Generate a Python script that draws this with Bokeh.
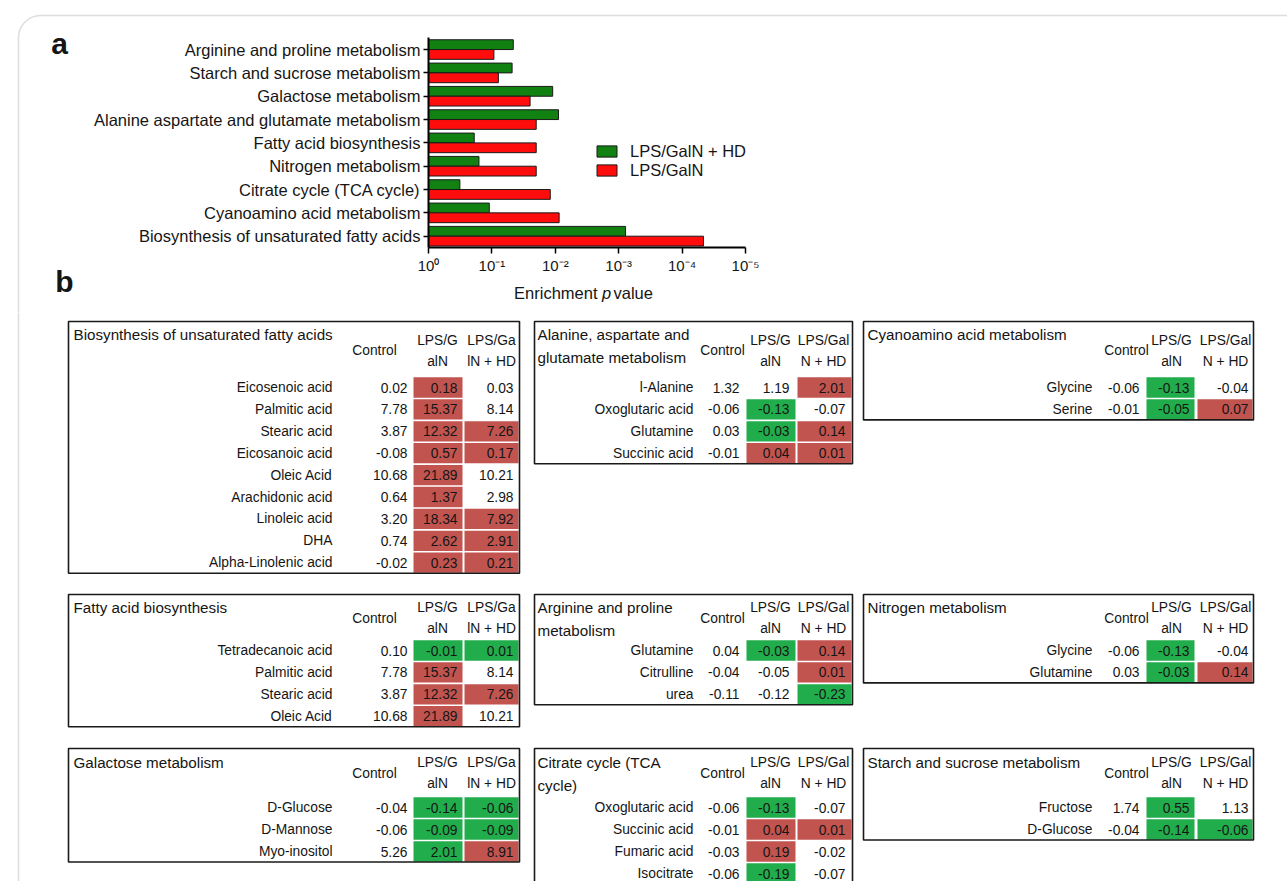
from bokeh.plotting import figure
from bokeh.models import (Range1d, FixedTicker, CustomJSTickFormatter, Label, BoxAnnotation,
                          ColumnDataSource, Legend, LegendItem)
from bokeh.layouts import column
from bokeh.embed import file_html
from bokeh.resources import INLINE
from bokeh.core.properties import value

# ---------------- panel a data ----------------
pathways = [
    "Arginine and proline metabolism",
    "Starch and sucrose metabolism",
    "Galactose metabolism",
    "Alanine aspartate and glutamate metabolism",
    "Fatty acid biosynthesis",
    "Nitrogen metabolism",
    "Citrate cycle (TCA cycle)",
    "Cyanoamino acid metabolism",
    "Biosynthesis of unsaturated fatty acids",
]
p_hd = [0.046, 0.048, 0.011, 0.0089, 0.19, 0.16, 0.32, 0.11, 0.00078]
p_galn = [0.093, 0.079, 0.025, 0.020, 0.020, 0.020, 0.012, 0.0087, 0.000046]
x_ticks = [1, 1e-1, 1e-2, 1e-3, 1e-4, 1e-5]
legend_labels = ["LPS/GalN + HD", "LPS/GalN"]

# ---------------- panel b data ----------------
hdr_control = "Control"
hdr_galn = ["LPS/G", "alN"]
hdr_hd_left = ["LPS/Ga", "lN + HD"]
hdr_hd_right = ["LPS/Gal", "N + HD"]

t1_title = ["Biosynthesis of unsaturated fatty acids"]
t1_names = ["Eicosenoic acid", "Palmitic acid", "Stearic acid", "Eicosanoic acid", "Oleic Acid",
            "Arachidonic acid", "Linoleic acid", "DHA", "Alpha-Linolenic acid"]
t1_control = [0.02, 7.78, 3.87, -0.08, 10.68, 0.64, 3.20, 0.74, -0.02]
t1_galn = [0.18, 15.37, 12.32, 0.57, 21.89, 1.37, 18.34, 2.62, 0.23]
t1_hd = [0.03, 8.14, 7.26, 0.17, 10.21, 2.98, 7.92, 2.91, 0.21]
t1_galn_sig = ["up", "up", "up", "up", "up", "up", "up", "up", "up"]
t1_hd_sig = ["", "", "up", "up", "", "", "up", "up", "up"]

t2_title = ["Alanine, aspartate and", "glutamate metabolism"]
t2_names = ["l-Alanine", "Oxoglutaric acid", "Glutamine", "Succinic acid"]
t2_control = [1.32, -0.06, 0.03, -0.01]
t2_galn = [1.19, -0.13, -0.03, 0.04]
t2_hd = [2.01, -0.07, 0.14, 0.01]
t2_galn_sig = ["", "down", "down", "up"]
t2_hd_sig = ["up", "", "up", "up"]

t3_title = ["Cyanoamino acid metabolism"]
t3_names = ["Glycine", "Serine"]
t3_control = [-0.06, -0.01]
t3_galn = [-0.13, -0.05]
t3_hd = [-0.04, 0.07]
t3_galn_sig = ["down", "down"]
t3_hd_sig = ["", "up"]

t4_title = ["Fatty acid biosynthesis"]
t4_names = ["Tetradecanoic acid", "Palmitic acid", "Stearic acid", "Oleic Acid"]
t4_control = [0.10, 7.78, 3.87, 10.68]
t4_galn = [-0.01, 15.37, 12.32, 21.89]
t4_hd = [0.01, 8.14, 7.26, 10.21]
t4_galn_sig = ["down", "up", "up", "up"]
t4_hd_sig = ["down", "", "up", ""]

t5_title = ["Arginine and proline", "metabolism"]
t5_names = ["Glutamine", "Citrulline", "urea"]
t5_control = [0.04, -0.04, -0.11]
t5_galn = [-0.03, -0.05, -0.12]
t5_hd = [0.14, 0.01, -0.23]
t5_galn_sig = ["down", "", ""]
t5_hd_sig = ["up", "up", "down"]

t6_title = ["Nitrogen metabolism"]
t6_names = ["Glycine", "Glutamine"]
t6_control = [-0.06, 0.03]
t6_galn = [-0.13, -0.03]
t6_hd = [-0.04, 0.14]
t6_galn_sig = ["down", "down"]
t6_hd_sig = ["", "up"]

t7_title = ["Galactose metabolism"]
t7_names = ["D-Glucose", "D-Mannose", "Myo-inositol"]
t7_control = [-0.04, -0.06, 5.26]
t7_galn = [-0.14, -0.09, 2.01]
t7_hd = [-0.06, -0.09, 8.91]
t7_galn_sig = ["down", "down", "down"]
t7_hd_sig = ["down", "down", "up"]

t8_title = ["Citrate cycle (TCA", "cycle)"]
t8_names = ["Oxoglutaric acid", "Succinic acid", "Fumaric acid", "Isocitrate"]
t8_control = [-0.06, -0.01, -0.03, -0.06]
t8_galn = [-0.13, 0.04, 0.19, -0.19]
t8_hd = [-0.07, 0.01, -0.02, -0.07]
t8_galn_sig = ["down", "up", "up", "down"]
t8_hd_sig = ["", "up", "", ""]

t9_title = ["Starch and sucrose metabolism"]
t9_names = ["Fructose", "D-Glucose"]
t9_control = [1.74, -0.04]
t9_galn = [0.55, -0.14]
t9_hd = [1.13, -0.06]
t9_galn_sig = ["down", "down"]
t9_hd_sig = ["", "down"]

# ---------------- styles ----------------
FONT = "Liberation Sans"
BAR_GREEN = "#118211"
BAR_RED = "#ff0d0d"
CELL_RED = "#c25450"
CELL_GREEN = "#22ad4c"
TXT = "#151515"
BORDER = "#8f8f8f"

W, H, HA = 1287, 881, 312
# page geometry of panel a (frame covers the whole canvas, axes at fixed locations)
X0_PX, DEC_PX = 428, 63.4        # pixel of 10^0, pixels per decade
Y0_PX, CAT_PX = 235.7, 23.33     # pixel of bottom category, pixels per category
x_start = 10 ** (X0_PX / DEC_PX)
x_end = 10 ** (-(W - X0_PX) / DEC_PX)
y_start = -(HA - Y0_PX) / CAT_PX
y_end = Y0_PX / CAT_PX
AXIS_Y = -0.48
TOP_Y = 8.53

# ================= panel a =================
pa = figure(width=W, height=HA, x_axis_type="log",
            x_range=Range1d(x_start, x_end), y_range=Range1d(y_start, y_end),
            output_backend="svg", toolbar_location=None, min_border=0)
pa.xgrid.visible = False
pa.ygrid.visible = False
pa.outline_line_color = None
pa.background_fill_color = "white"
pa.border_fill_color = "white"

n = len(pathways)
ypos = [n - 1 - i for i in range(n)]
src = ColumnDataSource(dict(
    y_hd=[y + 0.21 for y in ypos],
    y_galn=[y - 0.21 for y in ypos],
    p_hd=p_hd, p_galn=p_galn))
r_hd = pa.hbar(y="y_hd", left=1, right="p_hd", height=0.42, source=src,
               fill_color=BAR_GREEN, line_color="#1a1a1a", line_width=1)
r_galn = pa.hbar(y="y_galn", left=1, right="p_galn", height=0.42, source=src,
                 fill_color=BAR_RED, line_color="#1a1a1a", line_width=1)

xa = pa.xaxis[0]
xa.fixed_location = AXIS_Y
xa.bounds = (min(x_ticks), max(x_ticks))
xa.ticker = FixedTicker(ticks=x_ticks, minor_ticks=[])
xa.formatter = CustomJSTickFormatter(code="""
const e = Math.round(Math.log10(tick));
const sup = {'-':'\u207b','0':'\u2070','1':'\u00b9','2':'\u00b2','3':'\u00b3','4':'\u2074','5':'\u2075'};
return '10' + String(e).split('').map(c => sup[c]).join('');
""")
xa.axis_line_width = 2
xa.axis_line_color = "black"
xa.major_tick_out = 6
xa.major_tick_in = 0
xa.major_tick_line_width = 1.5
xa.minor_tick_out = 0
xa.minor_tick_in = 0
xa.major_label_text_font = FONT
xa.major_label_text_font_size = "15px"
xa.major_label_text_color = TXT
xa.major_label_standoff = 4

ya = pa.yaxis[0]
ya.fixed_location = 1
ya.bounds = (AXIS_Y, TOP_Y)
ya.ticker = FixedTicker(ticks=ypos, minor_ticks=[])
ya.formatter = CustomJSTickFormatter(args=dict(names=list(reversed(pathways))),
                                     code="return names[Math.round(tick)];")
ya.axis_line_width = 2
ya.axis_line_color = "black"
ya.major_tick_out = 5
ya.major_tick_in = 0
ya.major_tick_line_width = 1.5
ya.minor_tick_out = 0
ya.minor_tick_in = 0
ya.major_label_text_font = FONT
ya.major_label_text_font_size = "16.5px"
ya.major_label_text_color = TXT
ya.major_label_standoff = 3

legend = Legend(items=[LegendItem(label=legend_labels[0], renderers=[r_hd]),
                       LegendItem(label=legend_labels[1], renderers=[r_galn])],
                location=(594, HA - 179.5), orientation="vertical",
                border_line_color=None, background_fill_alpha=0,
                padding=0, margin=0, spacing=-2,
                glyph_width=25, glyph_height=14, label_height=14, label_standoff=11,
                label_text_font=FONT, label_text_font_size="16.5px", label_text_color=TXT)
pa.add_layout(legend)


def lab(x, y, text, size, align="center", style="normal"):
    pa.add_layout(Label(x=x, y=HA - y, x_units="screen", y_units="screen", text=text,
                        text_font=FONT, text_font_size=size, text_font_style=style,
                        text_align=align, text_baseline="middle", text_color=TXT))


lab(59, 43, "a", "30px", style="bold")
lab(64, 281, "b", "30px", style="bold")
lab(597, 292, "Enrichment", "16.5px", align="right")
lab(606, 292, "p", "16.5px", align="center", style="italic")
lab(613, 292, "value", "16.5px", align="left")

pa.add_layout(BoxAnnotation(left=18, right=2000, top=HA - 15, bottom=-1000,
                            left_units="screen", right_units="screen",
                            top_units="screen", bottom_units="screen",
                            fill_alpha=0, line_color=BORDER, line_width=1.5,
                            border_radius=22))

# ================= panel b =================
pb = figure(width=W, height=H - HA, x_range=Range1d(0, W), y_range=Range1d(H, HA),
            output_backend="svg", toolbar_location=None,
            x_axis_location=None, y_axis_location=None, min_border=0)
pb.grid.visible = False
pb.outline_line_color = None
pb.background_fill_color = "white"
pb.border_fill_color = "white"
pb.add_layout(BoxAnnotation(left=18, right=2000, top=15, bottom=1100,
                            fill_alpha=0, line_color=BORDER, line_width=1.5,
                            border_radius=22))

COLS = [
    dict(x0=68, x1=519, title_x=73, name_r=332, ctrl_r=407, ctrl_c=374,
         g_l=413, g_r=462, g_c=437, g_vr=457, h_l=464, h_r=518, h_c=491, h_vr=513, hd_hdr=hdr_hd_left),
    dict(x0=534, x1=852, title_x=537, name_r=693, ctrl_r=739, ctrl_c=722,
         g_l=746, g_r=795, g_c=770, g_vr=789, h_l=797, h_r=851, h_c=823, h_vr=845, hd_hdr=hdr_hd_right),
    dict(x0=863, x1=1253, title_x=867, name_r=1092, ctrl_r=1139, ctrl_c=1126,
         g_l=1146, g_r=1194, g_c=1171, g_vr=1189, h_l=1197, h_r=1252, h_c=1225, h_vr=1248, hd_hdr=hdr_hd_right),
]
ROWS = [
    dict(top=321, title_y=334, hdr1=340, hdr2=361, ctrl=350, row0=387, step=21.9),
    dict(top=594, title_y=607, hdr1=607, hdr2=628, ctrl=618, row0=650, step=21.9),
    dict(top=748, title_y=762, hdr1=762, hdr2=783, ctrl=773, row0=807, step=22.0),
]

tables = [
    (0, 0, t1_title, t1_names, t1_control, t1_galn, t1_hd, t1_galn_sig, t1_hd_sig),
    (1, 0, t2_title, t2_names, t2_control, t2_galn, t2_hd, t2_galn_sig, t2_hd_sig),
    (2, 0, t3_title, t3_names, t3_control, t3_galn, t3_hd, t3_galn_sig, t3_hd_sig),
    (0, 1, t4_title, t4_names, t4_control, t4_galn, t4_hd, t4_galn_sig, t4_hd_sig),
    (1, 1, t5_title, t5_names, t5_control, t5_galn, t5_hd, t5_galn_sig, t5_hd_sig),
    (2, 1, t6_title, t6_names, t6_control, t6_galn, t6_hd, t6_galn_sig, t6_hd_sig),
    (0, 2, t7_title, t7_names, t7_control, t7_galn, t7_hd, t7_galn_sig, t7_hd_sig),
    (1, 2, t8_title, t8_names, t8_control, t8_galn, t8_hd, t8_galn_sig, t8_hd_sig),
    (2, 2, t9_title, t9_names, t9_control, t9_galn, t9_hd, t9_galn_sig, t9_hd_sig),
]

cells = dict(left=[], right=[], top=[], bottom=[], color=[])
boxes = dict(left=[], right=[], top=[], bottom=[])
t_left = dict(x=[], y=[], text=[])
t_right = dict(x=[], y=[], text=[])
t_center = dict(x=[], y=[], text=[])
sig_color = {"up": CELL_RED, "down": CELL_GREEN}

for ci, ri, title, names, ctrl, galn, hd, gsig, hsig in tables:
    C, R = COLS[ci], ROWS[ri]
    step = R["step"]
    for k, line in enumerate(title):
        t_left["x"].append(C["title_x"]); t_left["y"].append(R["title_y"] + 23 * k); t_left["text"].append(line)
    t_center["x"] += [C["ctrl_c"], C["g_c"], C["g_c"], C["h_c"], C["h_c"]]
    t_center["y"] += [R["ctrl"], R["hdr1"], R["hdr2"], R["hdr1"], R["hdr2"]]
    t_center["text"] += [hdr_control, hdr_galn[0], hdr_galn[1], C["hd_hdr"][0], C["hd_hdr"][1]]
    for j, name in enumerate(names):
        y = R["row0"] + j * step
        for sig, l, r in ((gsig[j], C["g_l"], C["g_r"]), (hsig[j], C["h_l"], C["h_r"])):
            if sig:
                cells["left"].append(l); cells["right"].append(r)
                cells["top"].append(y - step / 2 + 0.8); cells["bottom"].append(y + step / 2 - 0.8)
                cells["color"].append(sig_color[sig])
        t_right["x"] += [C["name_r"], C["ctrl_r"], C["g_vr"], C["h_vr"]]
        t_right["y"] += [y] * 4
        t_right["text"] += [name, f"{ctrl[j]:.2f}", f"{galn[j]:.2f}", f"{hd[j]:.2f}"]
    boxes["left"].append(C["x0"]); boxes["right"].append(C["x1"])
    boxes["top"].append(R["top"]); boxes["bottom"].append(R["row0"] + (len(names) - 1) * step + 10.5)

pb.quad(left="left", right="right", top="top", bottom="bottom", fill_color="color",
        line_color=None, source=ColumnDataSource(cells))
pb.quad(left="left", right="right", top="top", bottom="bottom", fill_color=None,
        line_color="#1a1a1a", line_width=1.6, source=ColumnDataSource(boxes))
pb.text(x="x", y="y", text="text", source=ColumnDataSource(t_left), text_align="left",
        text_baseline="middle", text_font=value(FONT), text_font_size="15.2px", text_color=TXT)
pb.text(x="x", y="y", text="text", source=ColumnDataSource(t_right), text_align="right",
        text_baseline="middle", text_font=value(FONT), text_font_size="13.8px", text_color=TXT)
pb.text(x="x", y="y", text="text", source=ColumnDataSource(t_center), text_align="center",
        text_baseline="middle", text_font=value(FONT), text_font_size="13.8px", text_color=TXT)

layout = column(pa, pb, spacing=0)
open("out.html", "w").write(file_html(layout, INLINE))
